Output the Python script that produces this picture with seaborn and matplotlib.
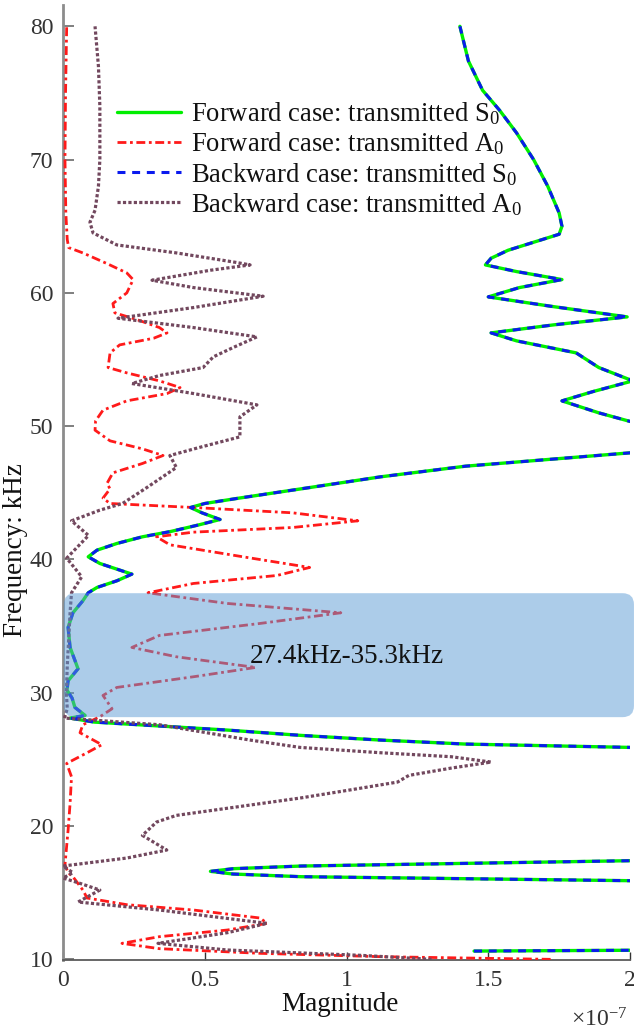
import numpy as np
import pandas as pd
import matplotlib
matplotlib.use("Agg")
import matplotlib.pyplot as plt
import seaborn as sns
from matplotlib.patches import FancyBboxPatch
from matplotlib.ticker import FuncFormatter, FixedLocator
from matplotlib.lines import Line2D

# ---------------- data (magnitude in units of 1e-7, frequency in kHz) ----------------
fwd_s0_freq = [80.0, 77.4, 75.2, 73.7, 72.0, 70.0, 68.0, 66.0, 65.0, 64.4, 63.8, 63.2, 62.6, 62.1,
               61.6, 61.0, 60.4, 59.7, 59.0, 58.2, 57.6, 57.0, 56.4, 55.5, 54.4, 53.4, 52.6, 51.9,
               51.0, 50.3, 49.5, 48.7, 48.0, 47.0, 46.2, 45.3, 44.6, 44.2, 43.9, 43.5, 43.0, 42.6,
               42.1, 41.7, 41.2, 40.7, 40.2, 39.7, 38.9, 38.4, 37.9, 37.5, 36.9, 36.0, 34.9, 33.4,
               31.8, 30.9, 30.2, 29.6, 28.9, 28.3, 28.1, 27.8, 27.2, 26.8, 26.45, 26.15, 25.9, 25.0,
               22.0, 19.0, 17.8, 17.4, 17.0, 16.8, 16.6, 16.4, 16.2, 15.9, 15.0, 13.0, 11.5, 10.9,
               10.68, 10.62]
fwd_s0_mag = [1.40, 1.43, 1.48, 1.54, 1.60, 1.66, 1.71, 1.75, 1.76, 1.75, 1.66, 1.57, 1.51, 1.49,
              1.60, 1.76, 1.61, 1.50, 1.72, 1.99, 1.73, 1.51, 1.60, 1.81, 1.89, 2.01, 1.87, 1.76,
              1.89, 2.01, 2.30, 2.25, 2.00, 1.42, 1.12, 0.84, 0.62, 0.50, 0.45, 0.49, 0.554, 0.48,
              0.38, 0.28, 0.19, 0.12, 0.089, 0.13, 0.243, 0.19, 0.12, 0.089, 0.07, 0.035, 0.018, 0.025,
              0.053, 0.018, 0.014, 0.032, 0.042, 0.078, 0.025, 0.11, 0.58, 0.84, 1.12, 1.42, 2.00, 2.60,
              3.00, 2.80, 2.30, 2.00, 0.84, 0.60, 0.52, 0.60, 0.84, 2.00, 2.60, 3.00, 2.60, 2.40,
              2.00, 1.45]

# backward S0 coincides with forward S0
bwd_s0_freq = list(fwd_s0_freq)
bwd_s0_mag = list(fwd_s0_mag)

fwd_a0_freq = [80.0, 75.0, 70.0, 66.0, 64.0, 63.4, 63.0, 62.2, 61.5, 61.0, 60.8, 60.0, 59.2, 58.5,
               58.0, 57.4, 57.0, 56.6, 56.1, 55.5, 54.4, 54.0, 53.4, 52.9, 52.45, 51.9, 51.2, 50.4,
               49.7, 48.9, 48.3, 47.8, 47.2, 46.5, 45.7, 45.3, 44.6, 44.2, 43.9, 43.5, 42.9, 42.4,
               42.05, 41.7, 41.1, 40.2, 39.4, 38.8, 38.2, 37.5, 36.7, 36.0, 35.2, 34.3, 33.4, 32.7,
               31.9, 31.2, 30.4, 29.8, 28.8, 28.2, 27.6, 27.0, 26.1, 25.5, 24.7, 23.7, 21.7, 19.7,
               17.1, 16.5, 16.2, 15.2, 14.6, 14.1, 13.7, 13.1, 12.7, 12.2, 11.7, 11.2, 10.8, 10.45,
               10.2, 10.0]
fwd_a0_mag = [0.013, 0.009, 0.007, 0.010, 0.015, 0.020, 0.070, 0.155, 0.225, 0.247, 0.243, 0.225, 0.176, 0.183,
              0.260, 0.340, 0.367, 0.320, 0.200, 0.166, 0.159, 0.225, 0.340, 0.413, 0.367, 0.225, 0.141, 0.115,
              0.113, 0.166, 0.280, 0.353, 0.280, 0.176, 0.155, 0.166, 0.141, 0.166, 0.460, 0.810, 1.040, 0.810,
              0.460, 0.330, 0.377, 0.635, 0.870, 0.755, 0.460, 0.300, 0.580, 0.980, 0.695, 0.340, 0.243, 0.400,
              0.680, 0.460, 0.190, 0.141, 0.173, 0.130, 0.070, 0.060, 0.137, 0.085, 0.013, 0.030, 0.025, 0.018,
              0.007, 0.018, 0.035, 0.070, 0.085, 0.225, 0.460, 0.695, 0.720, 0.580, 0.340, 0.208, 0.340, 0.695,
              1.120, 1.720]

bwd_a0_freq = [80.0, 77.0, 74.0, 70.0, 68.0, 66.2, 65.3, 64.5, 63.6, 63.0, 62.3, 62.1, 61.7, 60.95,
               60.4, 59.75, 58.9, 58.1, 57.4, 56.7, 55.9, 55.2, 54.4, 53.8, 53.2, 52.45, 51.6, 50.7,
               49.9, 49.2, 48.4, 47.8, 46.9, 45.4, 44.2, 43.7, 42.9, 41.8, 40.1, 38.7, 37.5, 36.0,
               34.0, 32.0, 30.0, 28.8, 28.1, 27.6, 26.45, 25.9, 25.5, 25.2, 24.8, 24.35, 23.8, 23.3,
               22.7, 22.1, 20.8, 20.3, 19.3, 18.2, 17.6, 17.0, 16.5, 16.1, 15.7, 15.2, 14.3, 13.7,
               12.7, 12.0, 11.2, 10.7, 10.3, 10.0]
bwd_a0_mag = [0.113, 0.125, 0.130, 0.130, 0.125, 0.113, 0.095, 0.106, 0.190, 0.400, 0.607, 0.660, 0.520, 0.314,
              0.460, 0.706, 0.460, 0.194, 0.460, 0.684, 0.600, 0.530, 0.494, 0.340, 0.243, 0.460, 0.684, 0.624,
              0.624, 0.624, 0.480, 0.377, 0.400, 0.296, 0.210, 0.130, 0.030, 0.090, 0.013, 0.066, 0.030, 0.025,
              0.020, 0.015, 0.012, 0.015, 0.005, 0.340, 0.660, 0.836, 1.120, 1.370, 1.510, 1.370, 1.220, 1.180,
              1.010, 0.836, 0.400, 0.330, 0.280, 0.366, 0.225, 0.000, 0.035, 0.000, 0.060, 0.130, 0.053, 0.340,
              0.720, 0.580, 0.335, 0.580, 1.050, 1.300]

labels = ["Forward case: transmitted S$_\\mathrm{0}$",
          "Forward case: transmitted A$_\\mathrm{0}$",
          "Backward case: transmitted S$_\\mathrm{0}$",
          "Backward case: transmitted A$_\\mathrm{0}$"]
x_ticks = [0, 0.5, 1, 1.5, 2]
y_ticks = [10, 20, 30, 40, 50, 60, 70, 80]
band_text = "27.4kHz-35.3kHz"
band_low, band_high = 28.17, 37.47

# ---------------- style ----------------
sns.set_style("ticks")
plt.rcParams['font.family'] = ['Liberation Serif', 'DejaVu Serif']
plt.rcParams['mathtext.fontset'] = 'custom'
plt.rcParams['mathtext.rm'] = 'Liberation Serif'
plt.rcParams['mathtext.it'] = 'Liberation Serif:italic'

W, H = 634, 1031
fig = plt.figure(figsize=(W / 100, H / 100), dpi=100)
ax = fig.add_axes([63 / W, 71 / H, 567 / W, 955 / H])

common = dict(solid_joinstyle='round', dash_joinstyle='round')
styles = [
    dict(color='#00ee00', linewidth=2.4, linestyle='-'),
    dict(color='#ff1a1a', linewidth=2.0, linestyle=(0, (3.2, 1.3, 1.0, 1.3))),
    dict(color='#0a1aee', linewidth=2.2, linestyle=(0, (2.6, 2.2))),
    dict(color='#72485e', linewidth=2.3, linestyle=(0, (1.0, 0.7))),
]
series = [(fwd_s0_freq, fwd_s0_mag), (fwd_a0_freq, fwd_a0_mag),
          (bwd_s0_freq, bwd_s0_mag), (bwd_a0_freq, bwd_a0_mag)]

handles = []
for (fr, mg), st, lab in zip(series, styles, labels):
    df = pd.DataFrame({"magnitude": mg, "frequency": fr})
    sns.lineplot(data=df, x="magnitude", y="frequency", orient="y", sort=True,
                 estimator=None, ax=ax, zorder=3, **st, **common)
    handles.append(Line2D([], [], **st))

ax.set_xlim(0, 2)
ax.set_ylim(9.95, 81.6)

# highlighted band
box = FancyBboxPatch((0.003, band_low), 2.011, band_high - band_low,
                     boxstyle="round,pad=0,rounding_size=0.04", mutation_aspect=21.3,
                     fc='#5b9bd5', ec='none', alpha=0.5, zorder=5, clip_on=False)
ax.add_patch(box)
ax.text(1.0, 32.7, band_text, ha='center', va='center', fontsize=19.5, color='#111111', zorder=6)

# axes styling
for s in ['top', 'right']:
    ax.spines[s].set_visible(False)
ax.spines['left'].set_color('#8c8c8c')
ax.spines['left'].set_linewidth(2.0)
ax.spines['bottom'].set_color('#5a5a5a')
ax.spines['bottom'].set_linewidth(1.3)
ax.xaxis.set_major_locator(FixedLocator(x_ticks))
ax.yaxis.set_major_locator(FixedLocator(y_ticks))
ax.xaxis.set_major_formatter(FuncFormatter(lambda v, p: f"{v:g}"))
ax.yaxis.set_major_formatter(FuncFormatter(lambda v, p: f"{v:g}"))
ax.tick_params(axis='y', direction='in', length=8, width=1.2, color='#6a6a6a',
               labelsize=17, labelcolor='#333333', pad=7)
ax.tick_params(axis='x', direction='in', length=6, width=1.0, color='#333333',
               labelsize=17, labelcolor='#333333', pad=7)

ax.set_xlabel("Magnitude", fontsize=19.5, color='#111111')
ax.set_ylabel("Frequency: kHz", fontsize=19.5, color='#111111')
ax.xaxis.set_label_coords(0.489, -0.034)
ax.yaxis.set_label_coords(-0.062, 0.429)

ax.text(0.996, -0.063, r"$\times10^{-7}$", transform=ax.transAxes, ha='right', va='center',
        fontsize=17, color='#333333')

leg = ax.legend(handles, labels, loc='upper left', bbox_to_anchor=(0.095, 0.9),
                frameon=False, fontsize=19.2, handlelength=2.4, handletextpad=0.38,
                labelspacing=0.12, borderpad=0, borderaxespad=0)
leg.set_zorder(7)
for t in leg.get_texts():
    t.set_color('#111111')

fig.savefig("out.png", dpi=100)
